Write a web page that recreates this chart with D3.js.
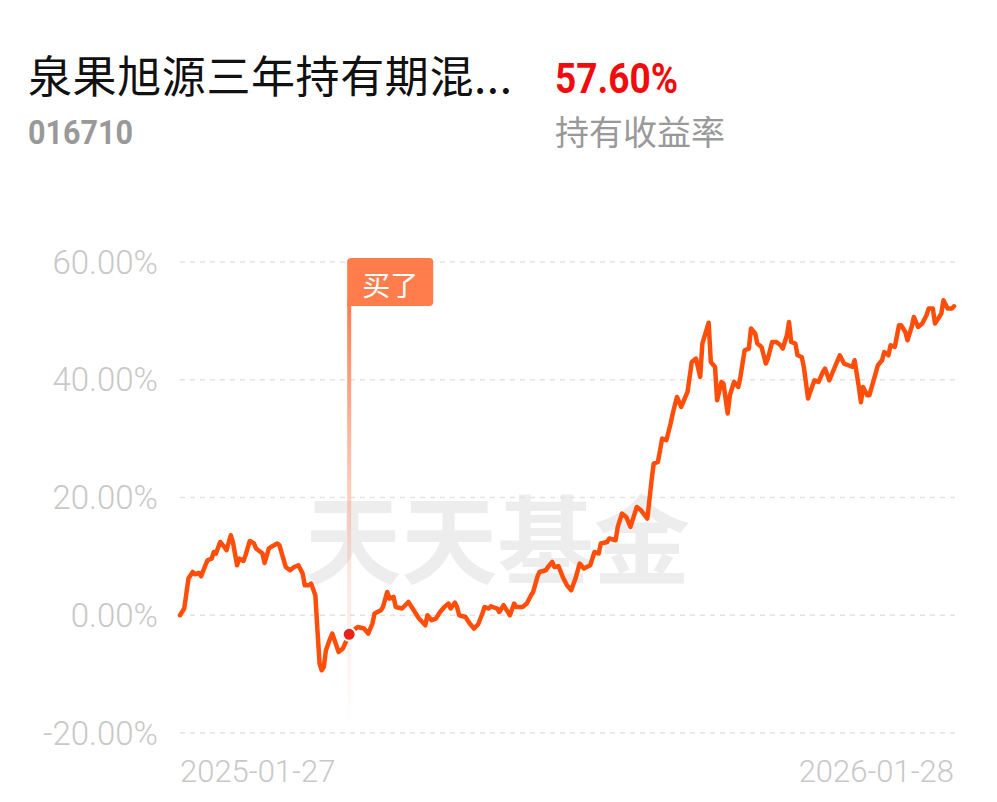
<!DOCTYPE html>
<html>
<head>
<meta charset="utf-8">
<script src="https://cdn.jsdelivr.net/npm/d3@7"></script>
<style>
html,body{margin:0;padding:0;background:#fff;}
svg{display:block;}
</style>
</head>
<body>
<svg id="chart" width="997" height="802"></svg>
<script>
// ---- data ----
const fundName = "泉果旭源三年持有期混...";
const fundCode = "016710";
const holdReturn = "57.60%";
const holdReturnLabel = "持有收益率";
const startDate = "2025-01-27";
const endDate = "2026-01-28";
const buyDate = "2025-04-17";
const buyLabel = "买了";
const watermark = "天天基金";
const yTicks = [-20, 0, 20, 40, 60];
const xTickLabels = ["2025-01-27", "2026-01-28"];
// day offsets from start date
const days = [0,2,4,6,7,9,10,12,13,15,16,17,19,21,22,24,25,27,28,30,31,33,35,36,39,40,42,43,46,47,50,52,54,56,58,59,61,62,64,65,66,67,68,69,71,72,75,77,80,82,84,87,89,91,92,95,96,98,99,101,102,105,108,110,113,116,117,119,121,123,125,127,128,130,131,132,135,137,139,141,143,144,146,147,150,151,153,154,156,158,159,162,164,166,167,169,170,173,174,176,177,179,181,183,185,187,189,191,194,196,198,199,202,203,206,207,209,211,213,216,218,221,223,224,226,228,230,232,233,235,237,239,240,242,244,246,247,250,251,253,254,256,257,259,260,262,264,265,267,269,270,272,273,275,277,278,280,282,284,285,287,288,289,291,292,294,295,297,298,300,302,304,305,307,309,311,312,314,316,318,319,321,322,323,325,326,328,330,332,333,335,336,338,340,341,343,344,346,347,349,351,353,354,356,357,359,360,361,363,365,366];
// cumulative return (%)
const returns = [0.00,1.14,6.23,7.35,6.96,7.18,6.62,8.49,9.34,9.63,10.75,10.48,12.45,11.60,11.04,13.59,12.45,8.49,9.63,9.22,10.19,12.62,12.18,11.33,10.48,8.88,11.33,11.60,12.18,11.89,8.20,7.64,8.20,8.49,7.08,5.10,5.10,5.38,3.40,-2.55,-8.20,-9.34,-8.78,-5.94,-3.96,-3.11,-6.23,-5.66,-3.23,-2.55,-1.99,-2.26,-3.11,-1.41,0.29,0.85,1.41,3.96,2.84,3.11,1.41,1.14,2.26,1.14,-0.56,-1.70,0.00,-0.85,-0.56,0.56,1.41,1.99,1.14,2.16,1.41,0.00,-0.29,-1.41,-2.26,-1.53,0.29,1.41,1.14,1.53,1.14,0.56,1.70,1.14,0.00,1.99,1.41,1.41,1.99,3.40,3.96,6.51,7.35,7.64,8.20,9.05,8.20,8.32,6.51,5.10,4.25,6.23,8.78,7.93,8.49,10.75,10.48,12.18,12.45,13.03,12.74,15.00,17.27,16.70,15.00,18.39,17.83,16.42,22.93,25.77,26.04,30.01,29.72,32.56,34.26,37.08,35.38,37.08,37.93,43.02,43.60,40.48,46.15,49.68,43.02,42.17,36.52,39.63,39.35,34.26,37.37,39.63,38.78,40.48,45.01,45.30,48.70,47.85,46.15,45.57,42.75,43.60,46.42,46.42,45.86,45.30,47.56,49.82,46.42,46.15,44.16,43.87,42.17,36.81,37.93,39.91,39.63,41.32,41.90,39.91,41.61,43.31,44.16,42.75,42.46,42.17,43.31,38.78,36.18,38.78,37.37,37.37,39.91,42.46,43.31,44.72,44.16,45.86,45.57,49.26,49.26,48.12,46.71,48.97,50.67,48.97,49.55,50.96,52.09,52.09,49.55,50.67,51.24,53.50,52.09,52.09,52.48];

// ---- chart ----
const parse = d3.timeParse("%Y-%m-%d");
const t0 = parse(startDate), t1 = parse(endDate);
const data = days.map((d, i) => ({ date: d3.timeDay.offset(t0, d), value: returns[i] }));

const svg = d3.select("#chart");
const plotLeft = 180, plotRight = 954, plotTop = 262, plotBottom = 733;

const x = d3.scaleTime().domain([t0, t1]).range([plotLeft, plotRight]);
const y = d3.scaleLinear().domain([-20, 60]).range([plotBottom, plotTop]);
const fmt = d3.formatLocale({ decimal: ".", thousands: ",", grouping: [3], currency: ["", ""], minus: "-" }).format(".2f");

const cjk = "'Noto Sans CJK SC', 'Noto Sans', sans-serif";
const num = "Roboto, 'Noto Sans', sans-serif";

// header
svg.append("text").attr("x", 28).attr("y", 93)
  .attr("font-family", cjk).attr("font-size", 44).attr("fill", "#111")
  .attr("letter-spacing", 0.6)
  .text(fundName);
svg.append("text").attr("x", 28).attr("y", 144)
  .attr("font-family", num).attr("font-weight", 700).attr("font-size", 34).attr("fill", "#999")
  .attr("textLength", 105).attr("lengthAdjust", "spacingAndGlyphs")
  .text(fundCode);
svg.append("text").attr("x", 555).attr("y", 93)
  .attr("font-family", num).attr("font-weight", 700).attr("font-size", 42).attr("fill", "#f00c0c")
  .attr("textLength", 123).attr("lengthAdjust", "spacingAndGlyphs")
  .text(holdReturn);
svg.append("text").attr("x", 555).attr("y", 145)
  .attr("font-family", cjk).attr("font-size", 34).attr("fill", "#999")
  .text(holdReturnLabel);

// watermark
svg.append("text").attr("x", 305).attr("y", 576)
  .attr("font-family", cjk).attr("font-weight", 700).attr("font-size", 96).attr("fill", "#ededed")
  .attr("textLength", 385).attr("lengthAdjust", "spacingAndGlyphs")
  .text(watermark);

// grid + y labels
const g = svg.append("g");
g.selectAll("line.grid").data(yTicks).join("line")
  .attr("class", "grid")
  .attr("x1", plotLeft).attr("x2", plotRight + 1)
  .attr("y1", d => y(d)).attr("y2", d => y(d))
  .attr("stroke", "#e3e3e3").attr("stroke-width", 1.5).attr("stroke-dasharray", "5,5");
g.selectAll("text.ylab").data(yTicks).join("text")
  .attr("class", "ylab")
  .attr("x", 158).attr("y", d => y(d))
  .attr("text-anchor", "end").attr("dominant-baseline", "central")
  .attr("font-family", num).attr("font-weight", 300).attr("font-size", 33).attr("fill", "#c8c8c8")
  .text(d => fmt(d) + "%");

// x labels
svg.append("text").attr("x", x(parse(xTickLabels[0]))).attr("y", 782)
  .attr("font-family", num).attr("font-weight", 300).attr("font-size", 31).attr("fill", "#c8c8c8")
  .attr("text-anchor", "start").text(xTickLabels[0]);
svg.append("text").attr("x", x(parse(xTickLabels[1]))).attr("y", 782)
  .attr("font-family", num).attr("font-weight", 300).attr("font-size", 31).attr("fill", "#c8c8c8")
  .attr("text-anchor", "end").text(xTickLabels[1]);

// buy marker line
const bd = parse(buyDate);
const bx = x(bd);
const defs = svg.append("defs");
const grad = defs.append("linearGradient").attr("id", "buyGrad")
  .attr("x1", 0).attr("y1", 0).attr("x2", 0).attr("y2", 1);
grad.append("stop").attr("offset", "0%").attr("stop-color", "#ff7a4a").attr("stop-opacity", 1);
grad.append("stop").attr("offset", "30%").attr("stop-color", "#ff8055").attr("stop-opacity", 0.6);
grad.append("stop").attr("offset", "60%").attr("stop-color", "#ff9070").attr("stop-opacity", 0.25);
grad.append("stop").attr("offset", "90%").attr("stop-color", "#ffa088").attr("stop-opacity", 0.08);
grad.append("stop").attr("offset", "100%").attr("stop-color", "#ffb0a0").attr("stop-opacity", 0);
svg.append("rect").attr("x", bx - 2).attr("y", 300).attr("width", 4).attr("height", 428)
  .attr("fill", "url(#buyGrad)");

// flag box
const fx = bx - 2, fy = 258, fw = 86, fh = 48, fr = 4;
svg.append("path")
  .attr("d", `M${fx},${fy + fr} Q${fx},${fy} ${fx + fr},${fy} L${fx + fw - fr},${fy} Q${fx + fw},${fy} ${fx + fw},${fy + fr} L${fx + fw},${fy + fh - fr} Q${fx + fw},${fy + fh} ${fx + fw - fr},${fy + fh} L${fx},${fy + fh} Z`)
  .attr("fill", "#ff7d4d");
svg.append("text").attr("x", fx + fw / 2).attr("y", fy + 38)
  .attr("text-anchor", "middle").attr("font-family", cjk).attr("font-size", 28).attr("fill", "#fff")
  .text(buyLabel);

// line
const line = d3.line().x(d => x(d.date)).y(d => y(d.value)).curve(d3.curveLinear);
svg.append("path").datum(data)
  .attr("d", line).attr("fill", "none")
  .attr("stroke", "#ff4d0a").attr("stroke-width", 4.5)
  .attr("stroke-linejoin", "round").attr("stroke-linecap", "round");

// buy dot
const bp = data.find(d => +d.date === +bd);
svg.append("circle").attr("cx", x(bp.date)).attr("cy", y(bp.value)).attr("r", 6.5)
  .attr("fill", "#e8231b").attr("stroke", "#fff").attr("stroke-width", 2);
</script>
</body>
</html>
